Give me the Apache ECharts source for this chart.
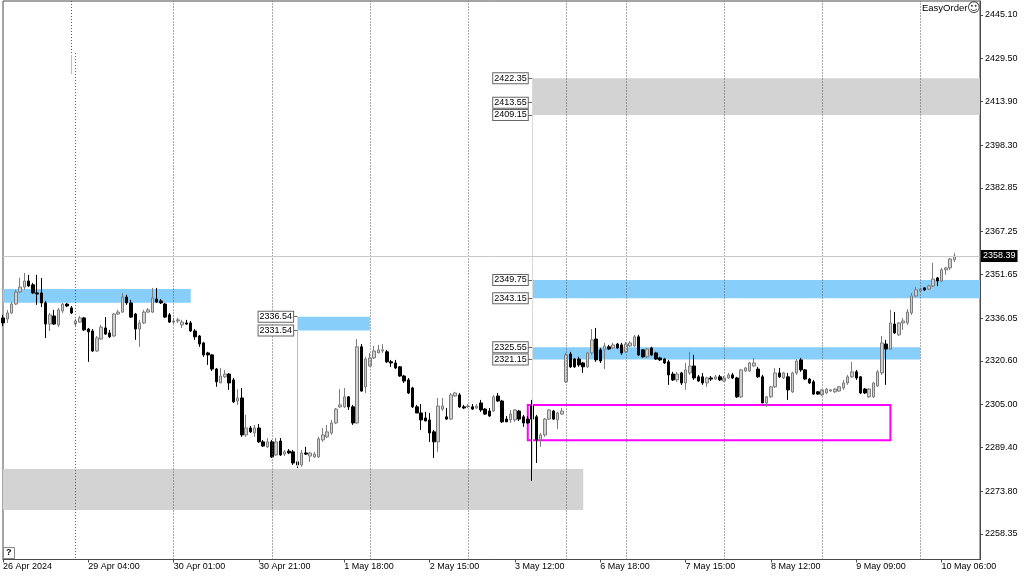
<!DOCTYPE html>
<html>
<head>
<meta charset="utf-8">
<script src="https://cdn.jsdelivr.net/npm/echarts@6/dist/echarts.min.js"></script>
<style>
  html, body { margin: 0; padding: 0; background: #fff; }
  #chart { width: 1024px; height: 576px; }
</style>
</head>
<body>
<div id="chart"></div>
<script>
// H1 candles, [open, close, low, high]
const candles = [
  [2336.1,2334.3,2333.2,2337.2],[2335.7,2337.9,2334.3,2339.0],[2337.9,2341.1,2337.5,2341.8],[2341.1,2345.4,2340.8,2346.2],
  [2345.4,2347.2,2345.1,2350.5],[2347.2,2349.4,2346.2,2352.3],[2349.4,2347.6,2347.2,2351.6],[2348.0,2345.1,2344.7,2348.7],
  [2345.1,2344.7,2340.8,2351.6],[2345.1,2341.5,2340.0,2350.5],[2341.5,2333.9,2328.9,2342.2],[2333.9,2337.2,2331.4,2337.9],
  [2336.8,2333.9,2333.6,2339.0],[2333.6,2339.0,2332.8,2339.7],[2338.6,2341.1,2337.9,2341.5],[2341.1,2340.4,2340.0,2341.5],
  [2339.7,2337.9,2337.5,2340.4],[2333.9,2335.0,2333.2,2335.7],[2334.6,2336.1,2334.3,2336.8],[2336.1,2331.8,2331.4,2336.4],
  [2332.1,2331.1,2320.3,2332.5],[2331.4,2324.2,2323.9,2332.1],[2324.2,2328.9,2323.9,2329.6],[2328.5,2332.8,2328.2,2333.6],
  [2332.5,2330.3,2330.0,2336.4],[2330.7,2329.3,2328.9,2331.8],[2329.6,2337.5,2329.3,2337.9],[2337.5,2338.2,2337.2,2339.0],
  [2338.2,2343.6,2337.9,2345.1],[2343.6,2341.5,2340.8,2344.4],[2341.5,2336.4,2336.1,2342.6],[2337.5,2332.1,2328.2,2337.9],
  [2332.1,2334.3,2325.7,2335.4],[2334.3,2338.2,2333.9,2339.0],[2338.2,2339.0,2337.9,2339.7],[2338.2,2343.3,2337.9,2346.9],
  [2342.9,2341.8,2341.5,2346.9],[2342.2,2341.5,2341.1,2342.9],[2341.1,2336.4,2336.1,2341.5],[2337.2,2334.6,2334.3,2337.9],
  [2334.6,2335.0,2333.9,2336.1],[2335.0,2335.4,2334.3,2336.1],[2333.6,2334.6,2332.5,2335.4],[2334.3,2333.9,2333.6,2335.4],
  [2334.3,2331.4,2331.1,2335.0],[2331.4,2329.3,2328.2,2332.1],[2329.6,2326.7,2325.7,2330.0],[2327.1,2322.8,2322.1,2327.5],
  [2323.5,2322.8,2319.2,2323.9],[2322.8,2317.7,2317.0,2323.1],[2317.7,2313.1,2311.3,2318.1],[2312.7,2315.2,2312.7,2318.1],
  [2314.9,2315.9,2314.5,2317.4],[2315.9,2312.7,2310.2,2316.3],[2313.8,2305.9,2305.5,2314.5],[2306.2,2307.3,2304.8,2310.5],
  [2307.3,2294.0,2293.3,2310.9],[2294.0,2296.5,2293.3,2301.2],[2296.5,2295.1,2294.7,2297.2],[2294.7,2296.5,2293.3,2297.6],
  [2296.5,2291.5,2291.1,2297.9],[2291.5,2290.0,2289.7,2292.2],[2289.7,2291.5,2289.3,2292.9],[2291.5,2286.1,2285.7,2292.2],
  [2286.8,2291.5,2286.4,2292.9],[2291.8,2286.8,2286.4,2292.9],[2287.1,2287.9,2286.4,2288.6],[2288.2,2287.5,2287.1,2288.9],
  [2287.9,2283.9,2283.2,2288.6],[2284.3,2283.2,2282.1,2285.0],[2283.2,2287.5,2282.5,2288.6],[2287.5,2287.1,2286.8,2289.7],
  [2286.4,2287.5,2284.3,2287.9],[2286.1,2287.1,2285.7,2287.9],[2286.1,2292.6,2285.7,2293.3],[2292.2,2294.0,2291.5,2296.5],
  [2293.3,2295.1,2292.9,2297.6],[2294.7,2298.3,2294.0,2299.4],[2298.3,2303.3,2297.9,2303.7],[2304.1,2304.8,2303.7,2310.5],
  [2304.1,2307.7,2303.7,2310.9],[2307.7,2304.1,2303.0,2308.0],[2304.1,2298.3,2297.6,2304.8],[2298.3,2325.7,2297.9,2328.5],
  [2325.7,2309.8,2309.5,2326.7],[2311.3,2321.3,2309.1,2322.1],[2318.8,2321.7,2318.5,2323.5],[2321.7,2324.2,2321.3,2326.0],
  [2323.5,2324.6,2323.5,2326.4],[2324.2,2324.6,2323.5,2326.7],[2323.9,2320.3,2319.9,2324.6],[2320.3,2319.9,2318.5,2321.0],
  [2319.9,2318.1,2317.7,2321.0],[2318.5,2315.2,2314.9,2318.8],[2315.2,2313.4,2312.7,2315.6],[2313.8,2309.1,2308.7,2314.5],
  [2310.9,2304.1,2303.7,2311.3],[2304.1,2301.9,2301.9,2304.8],[2301.9,2299.4,2295.8,2305.1],[2300.1,2299.0,2299.0,2302.3],
  [2299.4,2294.7,2291.5,2301.9],[2295.1,2291.5,2285.7,2295.8],[2291.5,2304.4,2287.9,2307.3],[2303.3,2304.4,2302.6,2307.3],
  [2300.5,2299.7,2299.4,2303.7],[2299.7,2308.4,2299.4,2309.1],[2308.0,2309.1,2307.7,2309.5],[2308.4,2304.1,2303.7,2309.1],
  [2304.1,2303.7,2303.3,2304.8],[2304.1,2304.4,2303.7,2305.1],[2304.1,2303.3,2303.0,2305.1],[2303.7,2304.4,2303.3,2305.1],
  [2305.5,2303.0,2302.3,2306.6],[2303.3,2301.5,2301.2,2303.7],[2302.6,2300.8,2300.5,2303.7],[2302.6,2307.7,2302.3,2308.4],
  [2308.0,2306.2,2305.9,2309.1],[2306.2,2298.7,2298.3,2306.6],[2299.7,2298.7,2298.7,2300.8],[2299.4,2301.5,2298.3,2303.0],
  [2299.4,2303.0,2298.7,2303.3],[2302.6,2299.7,2299.0,2303.0],[2300.5,2298.3,2296.9,2301.2],[2299.7,2298.3,2297.9,2300.8],
  [2304.4,2299.7,2277.4,2306.6],[2300.5,2292.2,2283.9,2301.2],[2292.2,2294.0,2289.7,2294.7],[2294.0,2299.7,2293.3,2300.1],
  [2299.7,2303.0,2299.4,2303.3],[2302.6,2299.7,2299.4,2303.0],[2299.4,2301.9,2296.1,2302.3],[2301.5,2302.6,2301.2,2303.7],
  [2313.1,2322.8,2312.7,2323.5],[2323.1,2318.5,2318.1,2323.9],[2321.3,2318.5,2318.1,2321.7],[2321.3,2319.2,2318.5,2322.1],
  [2319.9,2318.5,2316.3,2320.3],[2318.5,2323.5,2318.1,2323.9],[2323.5,2328.2,2322.8,2332.1],[2328.5,2321.0,2320.3,2332.5],
  [2324.6,2320.6,2319.9,2325.3],[2324.6,2326.0,2317.7,2327.1],[2325.7,2324.9,2324.6,2326.4],[2325.3,2326.4,2324.9,2327.1],
  [2326.7,2325.3,2324.9,2327.1],[2326.4,2323.5,2322.8,2327.1],[2323.9,2326.7,2323.5,2327.5],[2326.0,2327.1,2325.7,2327.8],
  [2326.0,2329.3,2325.7,2330.0],[2329.3,2322.8,2322.4,2330.0],[2324.6,2322.1,2321.7,2324.9],[2322.1,2324.9,2321.7,2325.3],
  [2325.3,2322.8,2322.4,2325.7],[2323.5,2321.3,2321.0,2323.9],[2321.7,2321.0,2320.6,2322.1],[2321.3,2319.9,2319.5,2321.7],
  [2320.3,2315.6,2312.0,2321.0],[2315.9,2313.8,2313.4,2316.7],[2313.8,2315.9,2313.1,2316.7],[2316.3,2312.7,2312.0,2316.7],
  [2312.7,2317.4,2310.2,2319.9],[2316.3,2318.8,2315.6,2323.9],[2318.8,2314.5,2313.8,2322.8],[2314.9,2313.4,2313.1,2315.6],
  [2314.9,2312.7,2312.0,2316.3],[2312.7,2314.5,2311.3,2314.9],[2314.5,2314.1,2313.4,2315.2],[2314.1,2314.9,2313.8,2315.6],
  [2314.9,2313.8,2313.4,2315.6],[2313.4,2314.5,2313.1,2315.2],[2314.5,2315.6,2314.1,2316.3],[2315.6,2314.5,2314.1,2316.3],
  [2314.5,2307.7,2307.3,2314.9],[2307.7,2317.4,2307.3,2317.7],[2317.0,2318.1,2316.7,2318.5],[2317.0,2319.9,2316.7,2320.3],
  [2318.8,2319.9,2318.5,2321.7],[2317.7,2314.9,2314.5,2318.5],[2314.9,2305.5,2305.5,2315.6],[2305.5,2307.7,2304.1,2308.0],
  [2307.7,2311.3,2307.3,2311.6],[2311.3,2316.3,2310.9,2318.1],[2316.3,2314.9,2314.5,2318.1],[2314.5,2316.3,2314.1,2316.7],
  [2314.9,2310.2,2306.6,2316.3],[2309.5,2316.3,2309.1,2316.7],[2316.3,2320.6,2315.6,2321.3],[2321.0,2317.4,2316.7,2321.7],
  [2317.4,2314.1,2313.8,2317.7],[2314.1,2312.7,2312.3,2314.5],[2313.1,2308.7,2308.4,2313.8],[2309.5,2308.7,2308.4,2309.8],
  [2308.4,2310.2,2308.0,2310.5],[2309.1,2310.5,2308.7,2310.9],[2309.8,2310.2,2309.5,2310.5],[2309.5,2310.5,2309.1,2310.9],
  [2309.8,2311.3,2309.5,2311.6],[2310.9,2312.7,2310.2,2313.8],[2312.7,2314.9,2312.0,2315.6],[2314.9,2316.7,2314.5,2320.3],
  [2316.7,2314.5,2313.8,2317.4],[2314.9,2309.1,2308.7,2315.2],[2310.5,2309.1,2308.7,2310.9],[2307.7,2310.5,2307.3,2310.9],
  [2307.7,2312.7,2307.3,2313.1],[2311.6,2316.7,2311.3,2317.4],[2316.3,2327.1,2315.6,2329.6],[2326.7,2324.9,2312.0,2328.2],
  [2324.9,2334.3,2324.6,2339.0],[2333.9,2330.7,2330.3,2338.2],[2330.0,2334.3,2329.6,2334.6],[2334.3,2335.0,2331.8,2336.1],
  [2334.3,2338.2,2333.6,2339.3],[2337.9,2344.0,2337.2,2345.1],[2344.0,2346.2,2343.6,2347.2],[2345.8,2346.5,2345.4,2346.9],
  [2346.9,2346.2,2345.8,2347.2],[2346.5,2347.6,2346.2,2348.0],[2347.6,2350.1,2347.2,2355.9],[2350.5,2349.4,2347.6,2350.8],
  [2349.4,2353.4,2349.0,2354.1],[2353.4,2354.1,2351.6,2354.4],[2354.1,2357.3,2353.4,2357.7],[2357.0,2358.39,2356.2,2359.5]
];

// one label every 20 bars, starting at bar 0
const tickLabels = ['26 Apr 2024', '29 Apr 04:00', '30 Apr 01:00', '30 Apr 21:00', '1 May 18:00', '2 May 15:00',
  '3 May 12:00', '6 May 18:00', '7 May 15:00', '8 May 12:00', '9 May 09:00', '10 May 06:00'];
const labelStep = 20;
const barSlots = 230; // bars plus the empty shift on the right

const yTicks = [2258.35, 2273.80, 2289.40, 2305.00, 2320.60, 2336.05, 2351.65,
  2367.25, 2382.85, 2398.30, 2413.90, 2429.50, 2445.10];
const yMin = 2249.17;
const yMax = 2450.14;

const bid = 2358.39;
const daySeparators = [40, 63, 86, 109, 132, 146, 169, 192, 215];

// [fromBar, toBar, top, bottom]
const blueZones = [[0, 44, 2346.5, 2341.6], [69, 86, 2336.54, 2331.54], [124, 229, 2349.75, 2343.15], [124, 215, 2325.55, 2321.15]];
const grayZones = [[0, 136, 2281.7, 2267.0], [124, 229, 2422.35, 2409.15]];
const boxZone = [123, 208, 2304.8, 2292.1];

// [bar, price]
const priceTags = [[124, 2422.35], [124, 2413.55], [124, 2409.15], [124, 2349.75], [124, 2343.15],
  [124, 2325.55], [124, 2321.15], [69, 2336.54], [69, 2331.54]];

const font = 'Liberation Sans, Arial, sans-serif';
const frame = '#4a4a4a';

const categories = Array.from({ length: barSlots }, (_, i) => String(i));
const isLabelBar = i => i % labelStep === 0 && i / labelStep < tickLabels.length;

function area(z, style) {
  return [{ xAxis: z[0], yAxis: z[2], itemStyle: style }, { xAxis: z[1], yAxis: z[3] }];
}

const areas = []
  .concat(grayZones.map(z => area(z, { color: '#d3d3d3' })))
  .concat(blueZones.map(z => area(z, { color: '#87cefa' })))
  .concat([area(boxZone, { color: 'rgba(0,0,0,0)', borderColor: '#ff00ff', borderWidth: 2 })]);

const sepStyle = { color: '#555', type: [1, 2], width: 1 };
const lines = [];
daySeparators.forEach(b => lines.push({ xAxis: b, lineStyle: sepStyle }));
// the first separator and a stray object line at the top left
lines.push([{ coord: [17, 2431.4], lineStyle: sepStyle }, { coord: [17, yMin] }]);
lines.push([{ coord: [16, yMax], lineStyle: sepStyle }, { coord: [16, 2423.9] }]);
lines.push([{ coord: [16, 2430.7], lineStyle: { color: '#87cefa', type: 'solid', width: 1 } }, { coord: [16, 2423.9] }]);
// anchor lines of the zones
lines.push([{ coord: [124, 2422.35], lineStyle: { color: '#d9d9d9', type: 'solid', width: 1 } }, { coord: [124, 2277.4] }]);
lines.push([{ coord: [69, 2331.54], lineStyle: { color: '#87cefa', type: 'solid', width: 1 } }, { coord: [69, 2282.6] }]);
// bid line
lines.push({
  yAxis: bid,
  lineStyle: { color: '#c8c8c8', type: 'solid', width: 1 },
  label: {
    show: true, position: 'end', distance: 1, formatter: bid.toFixed(2),
    color: '#fff', backgroundColor: '#000', padding: [2, 2, 1, 2], fontSize: 9, fontFamily: font
  }
});
// price tags with their connectors
priceTags.forEach(t => {
  lines.push([{
    coord: [t[0] - 1, t[1]],
    lineStyle: { color: '#666', type: 'solid', width: 1 },
    label: {
      show: true, position: 'start', distance: 0, formatter: t[1].toFixed(2),
      color: '#000', backgroundColor: '#fff', borderColor: '#666', borderWidth: 1,
      padding: [1, 1, 0, 1], fontSize: 9, fontFamily: font
    }
  }, { coord: [t[0], t[1]] }]);
});

const chart = echarts.init(document.getElementById('chart'));
chart.setOption({
  animation: false,
  backgroundColor: '#fff',
  grid: { left: 1.7, right: 44, top: 1, bottom: 16.5, show: true, borderColor: frame, borderWidth: 1 },
  xAxis: {
    type: 'category',
    data: categories,
    boundaryGap: false,
    axisLine: { show: true, lineStyle: { color: frame } },
    axisTick: { show: true, interval: isLabelBar, length: 3, lineStyle: { color: frame } },
    axisLabel: {
      interval: isLabelBar,
      formatter: (v, i) => tickLabels[i / labelStep] || '',
      align: 'left', margin: 3, color: '#000', fontSize: 9, fontFamily: font
    },
    splitLine: { show: false }
  },
  yAxis: {
    type: 'value',
    position: 'right',
    min: yMin,
    max: yMax,
    axisLine: { show: true, lineStyle: { color: frame } },
    axisTick: { show: true, customValues: yTicks, length: 3, lineStyle: { color: frame } },
    axisLabel: {
      customValues: yTicks, formatter: v => v.toFixed(2),
      margin: 5, color: '#000', fontSize: 9, fontFamily: font
    },
    splitLine: { show: false }
  },
  series: [{
    type: 'candlestick',
    data: candles,
    barWidth: 3,
    itemStyle: { color: '#cfcfcf', borderColor: '#7d7d7d', color0: '#000', borderColor0: '#000', borderWidth: 1 },
    markArea: { silent: true, label: { show: false }, data: areas },
    markLine: { silent: true, symbol: ['none', 'none'], label: { show: false }, data: lines }
  }],
  graphic: [
    { type: 'text', left: 922, top: 3, style: { text: 'EasyOrder', fill: '#000', font: '9.5px ' + font } },
    { type: 'text', left: 967, top: 2, style: { text: '\u263A', fill: '#333', font: '13px DejaVu Sans' } },
    { type: 'rect', left: 3, top: 547, shape: { width: 11, height: 11 }, style: { fill: '#fff', stroke: '#888', lineWidth: 1 } },
    { type: 'text', left: 6, top: 548, style: { text: '?', fill: '#000', font: 'bold 9px ' + font } }
  ]
});
</script>
</body>
</html>
